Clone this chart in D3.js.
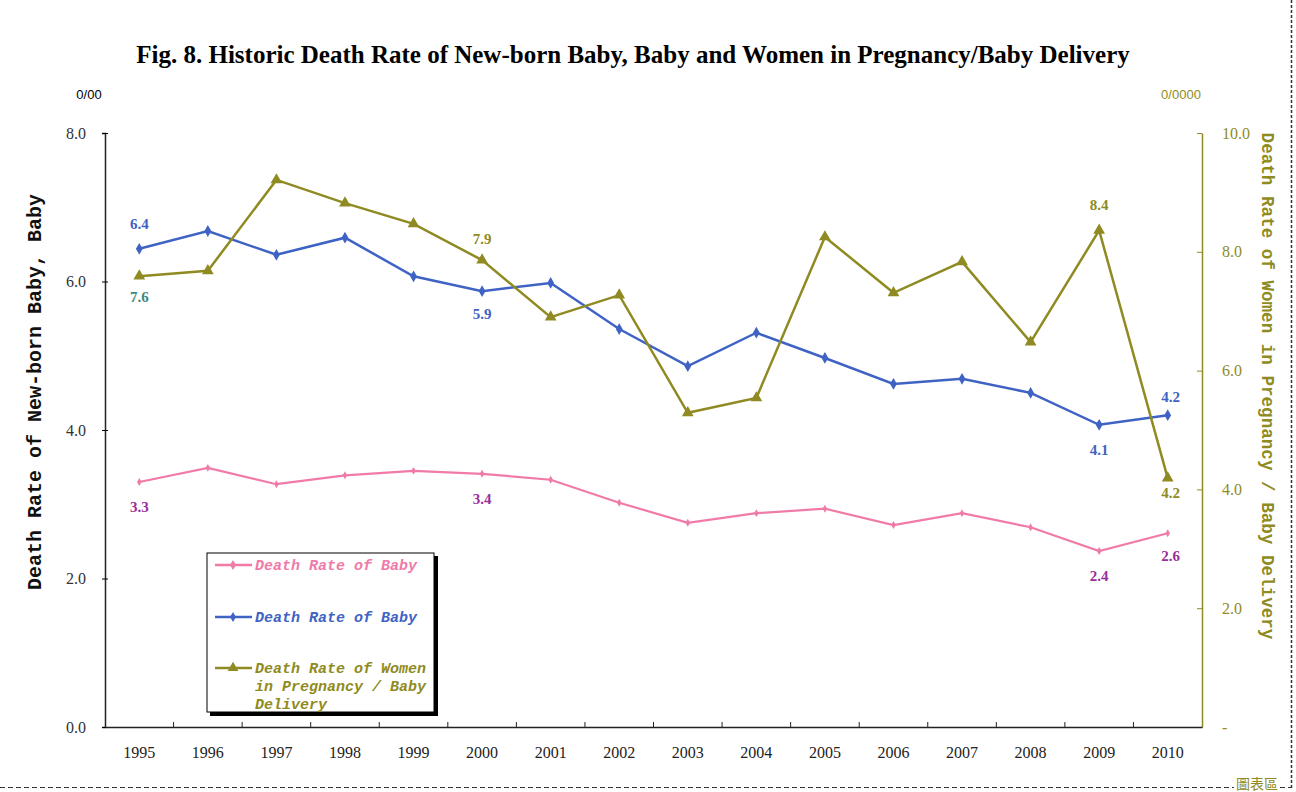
<!DOCTYPE html>
<html>
<head>
<meta charset="utf-8">
<script src="https://cdn.jsdelivr.net/npm/d3@7"></script>
<style>
  body { margin: 0; background: #fff; }
  svg { display: block; }
</style>
</head>
<body>
<div id="chart"></div>
<script>
// data
var years = ["1995","1996","1997","1998","1999","2000","2001","2002","2003","2004","2005","2006","2007","2008","2009","2010"];
var newbornRate = [3.30,3.49,3.27,3.39,3.45,3.41,3.33,3.02,2.75,2.88,2.94,2.72,2.88,2.69,2.37,2.61];
var babyRate = [6.44,6.68,6.36,6.59,6.07,5.87,5.98,5.36,4.86,5.31,4.97,4.62,4.69,4.50,4.07,4.20];
var womenRate = [7.59,7.68,9.21,8.82,8.47,7.86,6.90,7.27,5.29,5.54,8.25,7.31,7.83,6.48,8.36,4.19];
var leftTicks = [0,2,4,6,8];
var rightTicks = [0,2,4,6,8,10];

var W = 1296, H = 792;
var margin = {top: 133, right: 94, bottom: 65, left: 105};
var olive = "#8f8b22", blue = "#3f63c4", pink = "#f07aa8";

var svg = d3.select("#chart")
  .append("svg")
    .attr("width", W)
    .attr("height", H);

var x = d3.scaleBand()
  .domain(years)
  .range([margin.left, W - margin.right]);

var y = d3.scaleLinear()
  .domain([0, 8])
  .range([H - margin.bottom, margin.top]);

var y2 = d3.scaleLinear()
  .domain([0, 10])
  .range([H - margin.bottom, margin.top]);

function cx(i){ return x(years[i]) + x.bandwidth()/2; }

// title
svg.append("text")
  .attr("x", 633)
  .attr("y", 63)
  .attr("text-anchor", "middle")
  .attr("font-family", "Liberation Serif, serif")
  .attr("font-weight", "bold")
  .attr("font-size", 25)
  .text("Fig. 8. Historic Death Rate of New-born Baby, Baby and Women in Pregnancy/Baby Delivery");

// unit labels
svg.append("text")
  .attr("x", 89).attr("y", 99)
  .attr("text-anchor", "middle")
  .attr("font-family", "Liberation Sans Narrow, Liberation Sans, sans-serif")
  .attr("font-size", 13)
  .text("0/00");

svg.append("text")
  .attr("x", 1181).attr("y", 99)
  .attr("text-anchor", "middle")
  .attr("fill", olive)
  .attr("font-family", "Liberation Sans Narrow, Liberation Sans, sans-serif")
  .attr("font-size", 13)
  .text("0/0000");

// left axis
var leftAxis = svg.append("g")
  .attr("transform", "translate(" + margin.left + ",0)")
  .call(d3.axisLeft(y).tickValues(leftTicks).tickFormat(d3.format(".1f")).tickSize(3).tickPadding(16));
leftAxis.select(".domain").attr("stroke", "#222").attr("stroke-width", 1.5);
leftAxis.selectAll(".tick line").attr("x2", 3).attr("x1", -3);
leftAxis.selectAll("text")
  .attr("font-family", "Liberation Serif, serif")
  .attr("font-size", 16)
  .attr("fill", "#333");

// right axis
var rightAxis = svg.append("g")
  .attr("transform", "translate(" + (W - margin.right) + ",0)")
  .call(d3.axisRight(y2).tickValues(rightTicks)
    .tickFormat(function(d){ return d === 0 ? "-" : d3.format(".1f")(d); })
    .tickSize(0).tickPadding(20));
rightAxis.select(".domain").attr("stroke", olive).attr("stroke-width", 1.5);
rightAxis.selectAll(".tick").append("line")
  .attr("x1", -5).attr("x2", 0)
  .attr("stroke", olive);
rightAxis.selectAll("text")
  .attr("font-family", "Liberation Serif, serif")
  .attr("font-size", 16)
  .attr("fill", olive);

// bottom axis, ticks between categories
var bottomAxis = svg.append("g")
  .attr("transform", "translate(0," + (H - margin.bottom) + ")")
  .call(d3.axisBottom(x).tickSize(0).tickPadding(20));
bottomAxis.select(".domain").attr("stroke", "#222").attr("stroke-width", 1.5);
bottomAxis.selectAll("text")
  .attr("font-family", "Liberation Serif, serif")
  .attr("font-size", 16)
  .attr("fill", "#222");
bottomAxis.selectAll(".sep")
  .data(years.slice(1))
  .enter()
  .append("line")
    .attr("x1", function(d){ return x(d); })
    .attr("x2", function(d){ return x(d); })
    .attr("y1", 0)
    .attr("y2", -5)
    .attr("stroke", "#222");

// axis titles
svg.append("text")
  .attr("transform", "translate(41,392)rotate(-90)")
  .attr("text-anchor", "middle")
  .attr("font-family", "Liberation Mono, DejaVu Sans Mono, monospace")
  .attr("font-weight", "bold")
  .attr("font-size", 20)
  .attr("fill", "#111")
  .text("Death Rate of New-born Baby, Baby");

svg.append("text")
  .attr("transform", "translate(1262,386)rotate(90)")
  .attr("text-anchor", "middle")
  .attr("font-family", "Liberation Mono, DejaVu Sans Mono, monospace")
  .attr("font-weight", "bold")
  .attr("font-size", 17.6)
  .attr("fill", olive)
  .text("Death Rate of Women in Pregnancy / Baby Delivery");

// lines
var lineLeft = d3.line()
  .x(function(d, i){ return cx(i); })
  .y(function(d){ return y(d); });
var lineRight = d3.line()
  .x(function(d, i){ return cx(i); })
  .y(function(d){ return y2(d); });

svg.append("path")
  .datum(newbornRate)
  .attr("fill", "none")
  .attr("stroke", pink)
  .attr("stroke-width", 2.2)
  .attr("d", lineLeft);

svg.append("path")
  .datum(babyRate)
  .attr("fill", "none")
  .attr("stroke", blue)
  .attr("stroke-width", 2.5)
  .attr("d", lineLeft);

svg.append("path")
  .datum(womenRate)
  .attr("fill", "none")
  .attr("stroke", olive)
  .attr("stroke-width", 2.5)
  .attr("d", lineRight);

// markers
var diamond = d3.symbol().type(d3.symbolDiamond);
var triangle = d3.symbol().type(d3.symbolTriangle);

svg.append("g").selectAll("path")
  .data(newbornRate)
  .enter()
  .append("path")
    .attr("d", diamond.size(18)())
    .attr("transform", function(d, i){ return "translate(" + cx(i) + "," + y(d) + ")"; })
    .attr("fill", pink);

svg.append("g").selectAll("path")
  .data(babyRate)
  .enter()
  .append("path")
    .attr("d", diamond.size(40)())
    .attr("transform", function(d, i){ return "translate(" + cx(i) + "," + y(d) + ")"; })
    .attr("fill", blue);

svg.append("g").selectAll("path")
  .data(womenRate)
  .enter()
  .append("path")
    .attr("d", triangle.size(60)())
    .attr("transform", function(d, i){ return "translate(" + cx(i) + "," + y2(d) + ")"; })
    .attr("fill", olive);

// value labels: [series, index, dy, colour, axis]
var labels = [
  [babyRate, 0, -20, "#3f63c4", "left"],
  [womenRate, 0, 26, "#3d8a7c", "right"],
  [womenRate, 5, -16, olive, "right"],
  [babyRate, 5, 28, "#3f63c4", "left"],
  [newbornRate, 0, 30, "#9a2f9a", "left"],
  [newbornRate, 5, 30, "#9a2f9a", "left"],
  [womenRate, 14, -20, olive, "right"],
  [babyRate, 14, 30, "#3f63c4", "left"],
  [babyRate, 15, -13, "#3f63c4", "left"],
  [womenRate, 15, 20, olive, "right"],
  [newbornRate, 14, 30, "#9a2f9a", "left"],
  [newbornRate, 15, 28, "#9a2f9a", "left"]
];

svg.append("g").selectAll("text")
  .data(labels)
  .enter()
  .append("text")
    .attr("x", function(d){ return cx(d[1]) + (d[1] == 15 ? 3 : 0); })
    .attr("y", function(d){
      var sc = d[4] == "right" ? y2 : y;
      return sc(d[0][d[1]]) + d[2];
    })
    .attr("text-anchor", "middle")
    .attr("font-family", "Liberation Serif, serif")
    .attr("font-weight", "bold")
    .attr("font-size", 15)
    .attr("fill", function(d){ return d[3]; })
    .text(function(d){ return d3.format(".1f")(d[0][d[1]]); });

// legend
var legend = svg.append("g")
  .attr("transform", "translate(207,553)");

legend.append("rect")
  .attr("x", 3).attr("y", 3)
  .attr("width", 228).attr("height", 160)
  .attr("fill", "#000");
legend.append("rect")
  .attr("width", 227).attr("height", 159)
  .attr("fill", "#fff")
  .attr("stroke", "#000")
  .attr("stroke-width", 1);

var legendItems = [
  {name: ["Death Rate of Baby"], color: pink, sym: "d", y: 12},
  {name: ["Death Rate of Baby"], color: blue, sym: "d", y: 64},
  {name: ["Death Rate of Women", "in Pregnancy / Baby", "Delivery"], color: olive, sym: "t", y: 115}
];

var item = legend.selectAll(".item")
  .data(legendItems)
  .enter()
  .append("g")
    .attr("transform", function(d){ return "translate(0," + d.y + ")"; });

item.append("line")
  .attr("x1", 8).attr("x2", 45)
  .attr("stroke", function(d){ return d.color; })
  .attr("stroke-width", 2.5);

item.append("path")
  .attr("transform", "translate(26,0)")
  .attr("d", function(d){ return d.sym == "t" ? triangle.size(50)() : diamond.size(30)(); })
  .attr("fill", function(d){ return d.color; });

item.append("text")
  .attr("x", 48)
  .attr("y", 5)
  .attr("font-family", "Liberation Mono, DejaVu Sans Mono, monospace")
  .attr("font-weight", "bold")
  .attr("font-style", "italic")
  .attr("font-size", 15)
  .attr("fill", function(d){ return d.color; })
  .selectAll("tspan")
  .data(function(d){ return d.name; })
  .enter()
  .append("tspan")
    .attr("x", 48)
    .attr("dy", function(d, i){ return i == 0 ? 0 : 18; })
    .text(function(d){ return d; });

// chart area border (dashed)
svg.append("line")
  .attr("x1", 0).attr("x2", 1291)
  .attr("y1", 787.5).attr("y2", 787.5)
  .attr("stroke", "#333")
  .attr("stroke-dasharray", "5,3");
svg.append("line")
  .attr("x1", 1291.5).attr("x2", 1291.5)
  .attr("y1", 0).attr("y2", 788)
  .attr("stroke", "#333")
  .attr("stroke-width", 1.5)
  .attr("stroke-dasharray", "3,2");

svg.append("rect")
  .attr("x", 1234).attr("y", 774)
  .attr("width", 46).attr("height", 18)
  .attr("fill", "#fff");
svg.append("text")
  .attr("x", 1257).attr("y", 789)
  .attr("text-anchor", "middle")
  .attr("font-family", "Noto Sans CJK TC, sans-serif")
  .attr("font-size", 14)
  .attr("fill", olive)
  .text("圖表區");
</script>
</body>
</html>
